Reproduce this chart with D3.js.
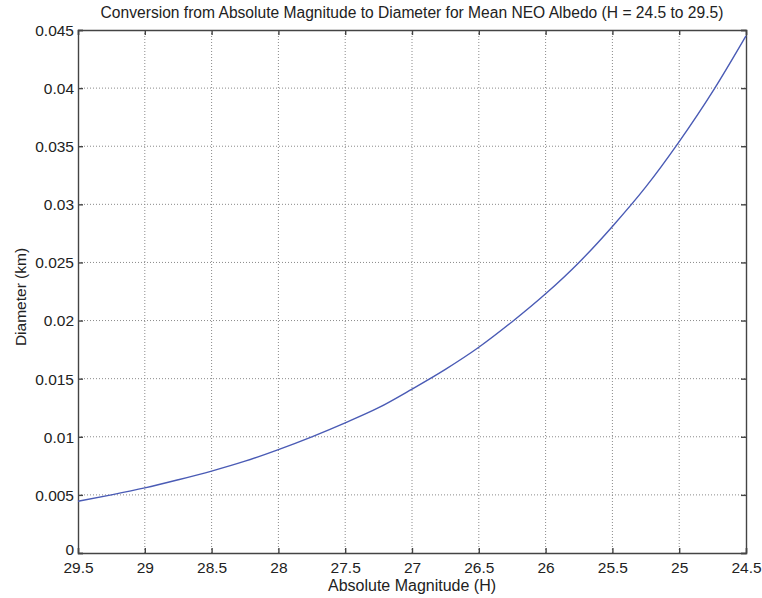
<!DOCTYPE html>
<html><head><meta charset="utf-8">
<script src="https://cdn.jsdelivr.net/npm/d3@7"></script>
<style>
body{margin:0;background:#fff;}
svg{display:block;font-family:"Liberation Sans",Arial,sans-serif;}
</style></head><body>
<svg id="c" width="762" height="598"></svg>
<script>
const magnitudes = [29.5,29.25,29,28.75,28.5,28.25,28,27.75,27.5,27.25,27,26.75,26.5,26.25,26,25.75,25.5,25.25,25,24.75,24.5];
const diameters = [0.00445,0.0050,0.0056,0.0063,0.00705,0.0079,0.0089,0.0100,0.0112,0.0125,0.0141,0.0158,0.0177,0.0199,0.0223,0.0250,0.0281,0.0315,0.0354,0.0397,0.0445];
const xTicks = [29.5,29,28.5,28,27.5,27,26.5,26,25.5,25,24.5];
const yTicks = [0,0.005,0.01,0.015,0.02,0.025,0.03,0.035,0.04,0.045];
const title = "Conversion from Absolute Magnitude to Diameter for Mean NEO Albedo (H = 24.5 to 29.5)";
const xLabel = "Absolute Magnitude (H)";
const yLabel = "Diameter (km)";

const L=78,R=746,T=30,B=553;
const svg=d3.select("#c");
const x=d3.scaleLinear().domain([29.5,24.5]).range([L,R]);
const y=d3.scaleLinear().domain([0,0.045]).range([B,T]);

// grid
const g=svg.append("g");
g.selectAll(".gx").data(xTicks.slice(1,-1)).enter().append("line")
 .attr("x1",d=>x(d)).attr("x2",d=>x(d)).attr("y1",T).attr("y2",B)
 .attr("stroke","#8a8a8a").attr("stroke-width",1).attr("stroke-dasharray","1,2");
g.selectAll(".gy").data(yTicks.slice(1,-1)).enter().append("line")
 .attr("y1",d=>y(d)).attr("y2",d=>y(d)).attr("x1",L).attr("x2",R)
 .attr("stroke","#8a8a8a").attr("stroke-width",1).attr("stroke-dasharray","1,2");

// axes
const fmt=d=>d===0?"0":String(+d.toFixed(4));
const xa=svg.append("g").attr("transform",`translate(0,${B})`)
 .call(d3.axisBottom(x).tickValues(xTicks).tickSize(-5).tickFormat(d=>String(d)));
const xt=svg.append("g").attr("transform",`translate(0,${T})`)
 .call(d3.axisTop(x).tickValues(xTicks).tickSize(-5).tickFormat(""));
const ya=svg.append("g").attr("transform",`translate(${L},0)`)
 .call(d3.axisLeft(y).tickValues(yTicks).tickSize(-5).tickPadding(4).tickFormat(fmt));
const yr=svg.append("g").attr("transform",`translate(${R},0)`)
 .call(d3.axisRight(y).tickValues(yTicks).tickSize(-5).tickFormat(""));
[xa,xt,ya,yr].forEach(a=>{
  a.select(".domain").attr("stroke","#444").attr("stroke-width",1.4);
  a.selectAll(".tick line").attr("stroke","#444").attr("stroke-width",1.4);
  a.selectAll("text").attr("font-size",15.5).attr("fill","#222").attr("font-family","Liberation Sans, Arial, sans-serif");
});
xa.selectAll(".tick text").attr("y",20).attr("dy",0);
ya.selectAll(".tick text").attr("dy","0.35em");
ya.selectAll(".tick").filter(d=>d===0).select("text").attr("dy","0.1em");

// curve
const data=magnitudes.map((m,i)=>({m,d:diameters[i]}));
svg.append("path").datum(data)
 .attr("fill","none").attr("stroke","#4a5bb5").attr("stroke-width",1.4)
 .attr("d",d3.line().x(d=>x(d.m)).y(d=>y(d.d)).curve(d3.curveMonotoneX));

// labels
svg.append("text").attr("x",412).attr("y",18).attr("text-anchor","middle")
 .attr("font-size",15.6).attr("fill","#222").text(title);
svg.append("text").attr("x",412).attr("y",591).attr("text-anchor","middle")
 .attr("font-size",16).attr("fill","#222").text(xLabel);
svg.append("text").attr("transform",`translate(26,297) rotate(-90)`).attr("text-anchor","middle")
 .attr("font-size",15.5).attr("fill","#222").text(yLabel);
</script>
</body></html>
